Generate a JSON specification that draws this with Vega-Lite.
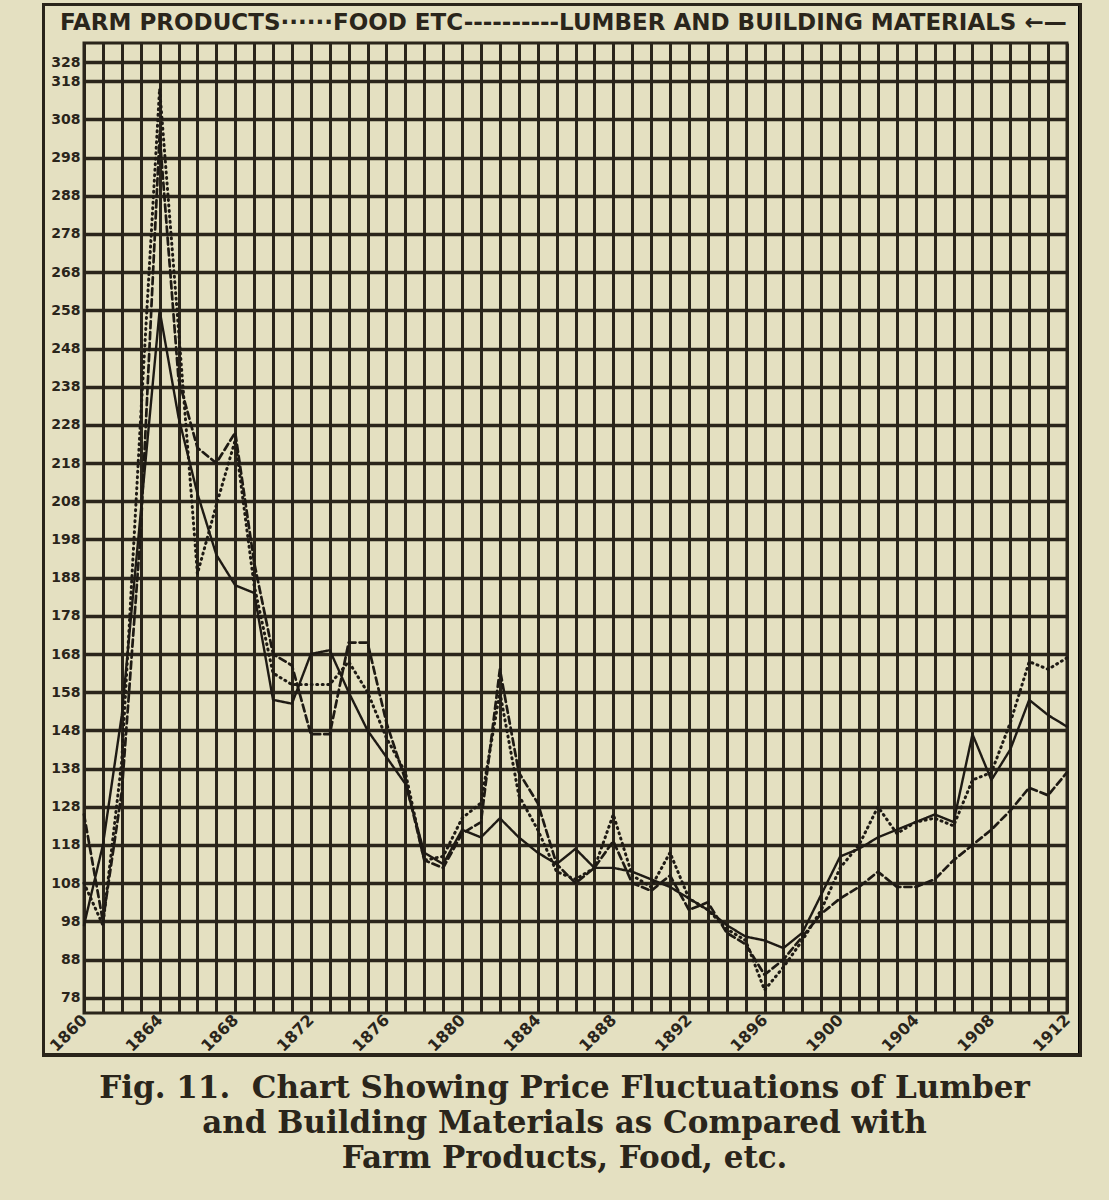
{
  "$schema": "https://vega.github.io/schema/vega-lite/v6.json",
  "width": 983,
  "height": 970,
  "autosize": {"type": "none"},
  "padding": {"left": 84, "top": 43, "right": 42, "bottom": 187},
  "background": "#e4e0c1",
  "config": {
    "view": {"stroke": "#2a251b", "strokeWidth": 3},
    "font": "DejaVu Sans"
  },
  "title": {
    "text": "FARM PRODUCTS······FOOD ETC----------LUMBER AND BUILDING MATERIALS ←—",
    "anchor": "start",
    "frame": "group",
    "dx": -24,
    "offset": -31,
    "fontSize": 23,
    "fontWeight": "bold",
    "font": "DejaVu Sans",
    "color": "#2a251b"
  },
  "data": {
    "values": [
      {"year": 1860, "series": "Farm Products", "value": 108},
      {"year": 1861, "series": "Farm Products", "value": 97},
      {"year": 1862, "series": "Farm Products", "value": 140},
      {"year": 1863, "series": "Farm Products", "value": 230},
      {"year": 1864, "series": "Farm Products", "value": 316},
      {"year": 1865, "series": "Farm Products", "value": 253},
      {"year": 1866, "series": "Farm Products", "value": 189},
      {"year": 1867, "series": "Farm Products", "value": 207},
      {"year": 1868, "series": "Farm Products", "value": 224},
      {"year": 1869, "series": "Farm Products", "value": 186},
      {"year": 1870, "series": "Farm Products", "value": 163},
      {"year": 1871, "series": "Farm Products", "value": 160},
      {"year": 1872, "series": "Farm Products", "value": 160},
      {"year": 1873, "series": "Farm Products", "value": 160},
      {"year": 1874, "series": "Farm Products", "value": 166},
      {"year": 1875, "series": "Farm Products", "value": 158},
      {"year": 1876, "series": "Farm Products", "value": 146},
      {"year": 1877, "series": "Farm Products", "value": 137},
      {"year": 1878, "series": "Farm Products", "value": 114},
      {"year": 1879, "series": "Farm Products", "value": 115},
      {"year": 1880, "series": "Farm Products", "value": 125},
      {"year": 1881, "series": "Farm Products", "value": 129},
      {"year": 1882, "series": "Farm Products", "value": 158},
      {"year": 1883, "series": "Farm Products", "value": 131},
      {"year": 1884, "series": "Farm Products", "value": 122},
      {"year": 1885, "series": "Farm Products", "value": 111},
      {"year": 1886, "series": "Farm Products", "value": 109},
      {"year": 1887, "series": "Farm Products", "value": 112},
      {"year": 1888, "series": "Farm Products", "value": 126},
      {"year": 1889, "series": "Farm Products", "value": 110},
      {"year": 1890, "series": "Farm Products", "value": 107},
      {"year": 1891, "series": "Farm Products", "value": 116},
      {"year": 1892, "series": "Farm Products", "value": 104},
      {"year": 1893, "series": "Farm Products", "value": 101},
      {"year": 1894, "series": "Farm Products", "value": 96},
      {"year": 1895, "series": "Farm Products", "value": 93},
      {"year": 1896, "series": "Farm Products", "value": 80},
      {"year": 1897, "series": "Farm Products", "value": 86},
      {"year": 1898, "series": "Farm Products", "value": 93},
      {"year": 1899, "series": "Farm Products", "value": 101},
      {"year": 1900, "series": "Farm Products", "value": 112},
      {"year": 1901, "series": "Farm Products", "value": 118},
      {"year": 1902, "series": "Farm Products", "value": 128},
      {"year": 1903, "series": "Farm Products", "value": 121},
      {"year": 1904, "series": "Farm Products", "value": 124},
      {"year": 1905, "series": "Farm Products", "value": 125},
      {"year": 1906, "series": "Farm Products", "value": 123},
      {"year": 1907, "series": "Farm Products", "value": 135},
      {"year": 1908, "series": "Farm Products", "value": 137},
      {"year": 1909, "series": "Farm Products", "value": 150},
      {"year": 1910, "series": "Farm Products", "value": 166},
      {"year": 1911, "series": "Farm Products", "value": 164},
      {"year": 1912, "series": "Farm Products", "value": 167},
      {"year": 1860, "series": "Food etc.", "value": 126},
      {"year": 1861, "series": "Food etc.", "value": 98},
      {"year": 1862, "series": "Food etc.", "value": 132},
      {"year": 1863, "series": "Food etc.", "value": 200},
      {"year": 1864, "series": "Food etc.", "value": 304},
      {"year": 1865, "series": "Food etc.", "value": 240},
      {"year": 1866, "series": "Food etc.", "value": 222},
      {"year": 1867, "series": "Food etc.", "value": 218},
      {"year": 1868, "series": "Food etc.", "value": 226},
      {"year": 1869, "series": "Food etc.", "value": 192},
      {"year": 1870, "series": "Food etc.", "value": 168},
      {"year": 1871, "series": "Food etc.", "value": 165},
      {"year": 1872, "series": "Food etc.", "value": 147},
      {"year": 1873, "series": "Food etc.", "value": 147},
      {"year": 1874, "series": "Food etc.", "value": 171},
      {"year": 1875, "series": "Food etc.", "value": 171},
      {"year": 1876, "series": "Food etc.", "value": 150},
      {"year": 1877, "series": "Food etc.", "value": 135},
      {"year": 1878, "series": "Food etc.", "value": 114},
      {"year": 1879, "series": "Food etc.", "value": 112},
      {"year": 1880, "series": "Food etc.", "value": 121},
      {"year": 1881, "series": "Food etc.", "value": 124},
      {"year": 1882, "series": "Food etc.", "value": 164},
      {"year": 1883, "series": "Food etc.", "value": 137},
      {"year": 1884, "series": "Food etc.", "value": 129},
      {"year": 1885, "series": "Food etc.", "value": 113},
      {"year": 1886, "series": "Food etc.", "value": 108},
      {"year": 1887, "series": "Food etc.", "value": 112},
      {"year": 1888, "series": "Food etc.", "value": 119},
      {"year": 1889, "series": "Food etc.", "value": 108},
      {"year": 1890, "series": "Food etc.", "value": 106},
      {"year": 1891, "series": "Food etc.", "value": 110},
      {"year": 1892, "series": "Food etc.", "value": 101},
      {"year": 1893, "series": "Food etc.", "value": 103},
      {"year": 1894, "series": "Food etc.", "value": 95},
      {"year": 1895, "series": "Food etc.", "value": 92},
      {"year": 1896, "series": "Food etc.", "value": 84},
      {"year": 1897, "series": "Food etc.", "value": 88},
      {"year": 1898, "series": "Food etc.", "value": 94},
      {"year": 1899, "series": "Food etc.", "value": 100},
      {"year": 1900, "series": "Food etc.", "value": 104},
      {"year": 1901, "series": "Food etc.", "value": 107},
      {"year": 1902, "series": "Food etc.", "value": 111},
      {"year": 1903, "series": "Food etc.", "value": 107},
      {"year": 1904, "series": "Food etc.", "value": 107},
      {"year": 1905, "series": "Food etc.", "value": 109},
      {"year": 1906, "series": "Food etc.", "value": 114},
      {"year": 1907, "series": "Food etc.", "value": 118},
      {"year": 1908, "series": "Food etc.", "value": 122},
      {"year": 1909, "series": "Food etc.", "value": 127},
      {"year": 1910, "series": "Food etc.", "value": 133},
      {"year": 1911, "series": "Food etc.", "value": 131},
      {"year": 1912, "series": "Food etc.", "value": 137},
      {"year": 1860, "series": "Lumber and Building Materials", "value": 97},
      {"year": 1861, "series": "Lumber and Building Materials", "value": 118},
      {"year": 1862, "series": "Lumber and Building Materials", "value": 152},
      {"year": 1863, "series": "Lumber and Building Materials", "value": 205},
      {"year": 1864, "series": "Lumber and Building Materials", "value": 258},
      {"year": 1865, "series": "Lumber and Building Materials", "value": 230},
      {"year": 1866, "series": "Lumber and Building Materials", "value": 210},
      {"year": 1867, "series": "Lumber and Building Materials", "value": 194},
      {"year": 1868, "series": "Lumber and Building Materials", "value": 186},
      {"year": 1869, "series": "Lumber and Building Materials", "value": 184},
      {"year": 1870, "series": "Lumber and Building Materials", "value": 156},
      {"year": 1871, "series": "Lumber and Building Materials", "value": 155},
      {"year": 1872, "series": "Lumber and Building Materials", "value": 168},
      {"year": 1873, "series": "Lumber and Building Materials", "value": 169},
      {"year": 1874, "series": "Lumber and Building Materials", "value": 158},
      {"year": 1875, "series": "Lumber and Building Materials", "value": 148},
      {"year": 1876, "series": "Lumber and Building Materials", "value": 141},
      {"year": 1877, "series": "Lumber and Building Materials", "value": 134},
      {"year": 1878, "series": "Lumber and Building Materials", "value": 116},
      {"year": 1879, "series": "Lumber and Building Materials", "value": 113},
      {"year": 1880, "series": "Lumber and Building Materials", "value": 122},
      {"year": 1881, "series": "Lumber and Building Materials", "value": 120},
      {"year": 1882, "series": "Lumber and Building Materials", "value": 125},
      {"year": 1883, "series": "Lumber and Building Materials", "value": 120},
      {"year": 1884, "series": "Lumber and Building Materials", "value": 116},
      {"year": 1885, "series": "Lumber and Building Materials", "value": 113},
      {"year": 1886, "series": "Lumber and Building Materials", "value": 117},
      {"year": 1887, "series": "Lumber and Building Materials", "value": 112},
      {"year": 1888, "series": "Lumber and Building Materials", "value": 112},
      {"year": 1889, "series": "Lumber and Building Materials", "value": 111},
      {"year": 1890, "series": "Lumber and Building Materials", "value": 109},
      {"year": 1891, "series": "Lumber and Building Materials", "value": 107},
      {"year": 1892, "series": "Lumber and Building Materials", "value": 104},
      {"year": 1893, "series": "Lumber and Building Materials", "value": 101},
      {"year": 1894, "series": "Lumber and Building Materials", "value": 97},
      {"year": 1895, "series": "Lumber and Building Materials", "value": 94},
      {"year": 1896, "series": "Lumber and Building Materials", "value": 93},
      {"year": 1897, "series": "Lumber and Building Materials", "value": 91},
      {"year": 1898, "series": "Lumber and Building Materials", "value": 95},
      {"year": 1899, "series": "Lumber and Building Materials", "value": 105},
      {"year": 1900, "series": "Lumber and Building Materials", "value": 115},
      {"year": 1901, "series": "Lumber and Building Materials", "value": 117},
      {"year": 1902, "series": "Lumber and Building Materials", "value": 120},
      {"year": 1903, "series": "Lumber and Building Materials", "value": 122},
      {"year": 1904, "series": "Lumber and Building Materials", "value": 124},
      {"year": 1905, "series": "Lumber and Building Materials", "value": 126},
      {"year": 1906, "series": "Lumber and Building Materials", "value": 124},
      {"year": 1907, "series": "Lumber and Building Materials", "value": 147},
      {"year": 1908, "series": "Lumber and Building Materials", "value": 135},
      {"year": 1909, "series": "Lumber and Building Materials", "value": 143},
      {"year": 1910, "series": "Lumber and Building Materials", "value": 156},
      {"year": 1911, "series": "Lumber and Building Materials", "value": 152},
      {"year": 1912, "series": "Lumber and Building Materials", "value": 149}
    ]
  },
  "layer": [
    {
      "mark": {"type": "rect", "fill": null, "stroke": "#2a251b", "strokeWidth": 2.5, "clip": false},
      "encoding": {
        "x": {"datum": 1857.85, "type": "quantitative"},
        "x2": {"datum": 1912.7},
        "y": {"datum": 338, "type": "quantitative"},
        "y2": {"datum": 63}
      }
    },
    {
      "mark": {"type": "line", "color": "#1e1a14", "strokeCap": "round", "strokeJoin": "round"},
      "encoding": {
        "x": {
          "field": "year",
          "type": "quantitative",
          "scale": {"domain": [1860, 1912], "nice": false, "zero": false},
          "axis": {
            "values": [1860,1861,1862,1863,1864,1865,1866,1867,1868,1869,1870,1871,1872,1873,1874,1875,1876,1877,1878,1879,1880,1881,1882,1883,1884,1885,1886,1887,1888,1889,1890,1891,1892,1893,1894,1895,1896,1897,1898,1899,1900,1901,1902,1903,1904,1905,1906,1907,1908,1909,1910,1911,1912],
            "tickCount": 200,
            "format": "d",
            "labelOpacity": {"condition": {"test": "datum.value % 4 != 0", "value": 0}, "value": 1},
            "labelAngle": -45,
            "labelAlign": "right",
            "labelBaseline": "middle",
            "labelFontSize": 16,
            "labelFontWeight": "bold",
            "labelColor": "#2a251b",
            "labelPadding": 4,
            "labelOverlap": false,
            "ticks": false,
            "domain": false,
            "grid": true,
            "gridColor": "#2a251b",
            "gridWidth": 3,
            "gridOpacity": 1,
            "title": ["Fig. 11.\u00a0 Chart Showing Price Fluctuations of Lumber", "and Building Materials as Compared with", "Farm Products, Food, etc."],
            "titleFont": "DejaVu Serif",
            "titleFontWeight": "bold",
            "titleFontSize": 31,
            "titleLineHeight": 35,
            "titleColor": "#2a251b",
            "titlePadding": 19,
            "titleX": 480
          }
        },
        "y": {
          "field": "value",
          "type": "quantitative",
          "scale": {"domain": [74, 328], "nice": false, "zero": false},
          "axis": {
            "values": [78,88,98,108,118,128,138,148,158,168,178,188,198,208,218,228,238,248,258,268,278,288,298,308,318,323],
            "tickCount": 200,
            "labelExpr": "datum.value == 323 ? '328' : datum.label",
            "labelOverlap": false,
            "labelFontSize": 14,
            "labelFontWeight": "bold",
            "labelColor": "#2a251b",
            "labelPadding": 4,
            "ticks": false,
            "domain": false,
            "grid": true,
            "gridColor": "#2a251b",
            "gridWidth": 3.5,
            "gridOpacity": 1,
            "title": null
          }
        },
        "strokeDash": {
          "field": "series",
          "type": "nominal",
          "scale": {"domain": ["Farm Products", "Food etc.", "Lumber and Building Materials"], "range": [[1, 4.5], [7, 4], [1, 0]]},
          "legend": null
        },
        "strokeWidth": {
          "field": "series",
          "type": "nominal",
          "scale": {"domain": ["Farm Products", "Food etc.", "Lumber and Building Materials"], "range": [3, 2.4, 3]},
          "legend": null
        }
      }
    }
  ]
}
